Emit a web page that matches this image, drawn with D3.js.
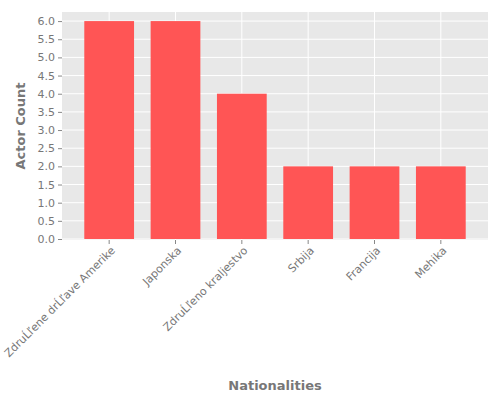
<!DOCTYPE html><html><head><script src="https://cdn.jsdelivr.net/npm/d3@7"></script>
<style>body{margin:0;background:#fff}text{font-family:"DejaVu Sans";}</style></head><body><svg width="500" height="400"></svg>
<script>
const categories=["Združene države Amerike","Japonska","Združeno kraljestvo","Srbija","Francija","Mehika"];
const counts=[6,6,4,2,2,2];
const yTicks=[0,0.5,1,1.5,2,2.5,3,3.5,4,4.5,5,5.5,6];
const svg=d3.select("svg");
const L=62,R=488,T=12,B=240;
const x=d3.scaleBand().domain(categories).range([76,474]).paddingInner(0.25).paddingOuter(0.125);
const y=d3.scaleLinear().domain([0,6.25]).range([239,T]);
svg.append("rect").attr("x",L).attr("y",T).attr("width",R-L).attr("height",B-T).attr("fill","#e8e8e8");
svg.selectAll(".g").data(yTicks).join("line").attr("x1",L).attr("x2",R).attr("y1",d=>y(d)).attr("y2",d=>y(d)).attr("stroke","#fff").attr("stroke-width",1);
svg.selectAll(".vg").data(categories).join("line").attr("x1",d=>x(d)+x.bandwidth()/2).attr("x2",d=>x(d)+x.bandwidth()/2).attr("y1",T).attr("y2",B).attr("stroke","#fff");
svg.selectAll(".b").data(counts).join("rect").attr("x",(d,i)=>x(categories[i])).attr("width",x.bandwidth()).attr("y",d=>y(d)).attr("height",d=>y(0)-y(d)).attr("fill","#ff5555");
const ya=svg.append("g").attr("transform",`translate(${L},0)`).call(d3.axisLeft(y).tickValues(yTicks).tickFormat(d3.format(".1f")).tickSize(4).tickPadding(3));
const xa=svg.append("g").attr("transform",`translate(0,${B})`).call(d3.axisBottom(x).tickSize(4));
[ya,xa].forEach(a=>{a.select(".domain").remove();a.selectAll("line").attr("stroke","#888");a.selectAll("text").attr("fill","#777").attr("font-size",11);});
xa.selectAll("text").attr("text-anchor","end").attr("transform","rotate(-45)").attr("dx","-0.3em").attr("dy","0.5em");
svg.append("text").attr("x",275).attr("y",390).attr("text-anchor","middle").attr("fill","#777").attr("font-size",13).attr("font-weight","bold").text("Nationalities");
svg.append("text").attr("transform","translate(25,126) rotate(-90)").attr("text-anchor","middle").attr("fill","#777").attr("font-size",13).attr("font-weight","bold").text("Actor Count");
</script></body></html>
